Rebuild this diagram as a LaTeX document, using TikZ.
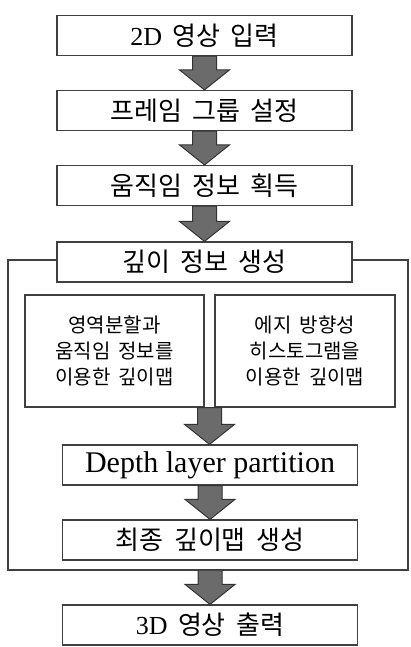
\documentclass[tikz,border=0pt]{standalone}
\usepackage{fontspec}
\setmainfont{Liberation Serif}
\newfontfamily\kr[WordSpace=1.8]{Noto Sans CJK KR}
\usetikzlibrary{calc}
\tikzset {
  box/.style={draw=black!75,line width=1.2pt,fill=white,inner sep=0pt,
    minimum width=295pt,minimum height=40pt,font=\fontsize{26}{28}\selectfont\kr},
  mapbox/.style={box,minimum width=179pt,minimum height=112pt,align=center,
    font=\fontsize{20}{26}\selectfont\kr},
  blockarrow/.style={fill=black!58,draw=black!80,line width=1pt,line join=miter},
}
\newcommand{\flowarrow}[2]{%
  \filldraw[blockarrow] let \p1=#1, \p2=#2 in
    (\x1-12pt,\y1) -- (\x1+12pt,\y1) -- (\x1+12pt,\y2+20pt) -- (\x1+25pt,\y2+20pt)
    -- (\x1,\y2) -- (\x1-25pt,\y2+20pt) -- (\x1-12pt,\y2+20pt) -- cycle;}

\begin{document}
\begin{tikzpicture}[x=1pt,y=-1pt]
      \fill[white] (0,0) rectangle (410,647);
      \useasboundingbox (0,0) rectangle (410,647);
      % frame round the depth steps
      \draw[draw=black!75,line width=1.2pt] (8,260) rectangle (408,570);
      \node[box] (input) at (204.5,35.5) {{\rmfamily 2D} 영상 입력};
      \node[box] (group) at (204.5,110.5) {프레임 그룹 설정};
      \node[box] (motion) at (204.5,185.5) {움직임 정보 획득};
      \node[box] (depthgen) at (204.5,262) {깊이 정보 생성};
      \node[mapbox] (mapA) at (114.5,351) {영역분할과\\움직임 정보를\\이용한 깊이맵};
      \node[mapbox,minimum width=180pt] (mapB) at (305,351) {에지 방향성\\히스토그램을\\이용한 깊이맵};
      \node[box,font=\fontsize{30}{32}\selectfont\rmfamily] (layer) at (210,465) {Depth layer partition};
      \node[box] (final) at (210,540) {최종 깊이맵 생성};
      \node[box] (output) at (210,625) {{\rmfamily 3D} 영상 출력};
      \coordinate (gap) at ($(mapA.south east)!0.5!(mapB.south west)$);
      \coordinate (frame) at (210,570);
      \flowarrow{(input.south)}{(group.north)}
      \flowarrow{(group.south)}{(motion.north)}
      \flowarrow{(motion.south)}{(depthgen.north)}
      \flowarrow{(gap)}{(layer.north)}
      \flowarrow{(layer.south)}{(final.north)}
      \flowarrow{(frame)}{(output.north)}
    \end{tikzpicture}
\end{document}
